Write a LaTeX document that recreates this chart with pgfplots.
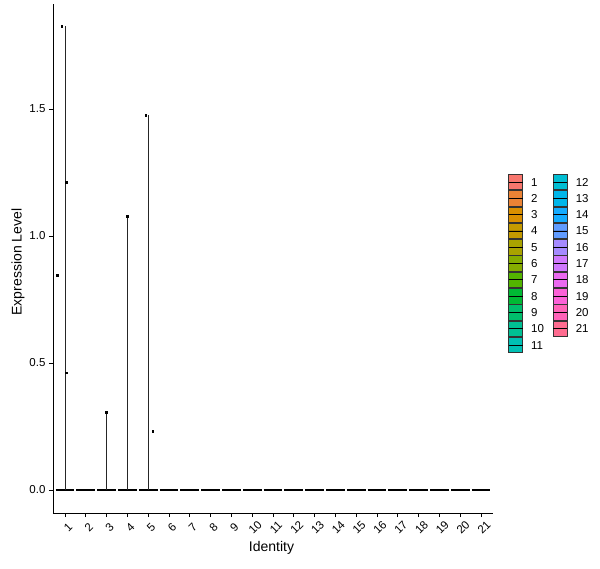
\documentclass[border=0pt]{standalone}
\usepackage{fontspec}
\setmainfont{Liberation Sans}
\usepackage{pgfplots}
\pgfplotsset{compat=1.18}
\definecolor{c1}{HTML}{F8766D}
\definecolor{c2}{HTML}{EB8335}
\definecolor{c3}{HTML}{DA8F00}
\definecolor{c4}{HTML}{C49A00}
\definecolor{c5}{HTML}{A9A300}
\definecolor{c6}{HTML}{86AC00}
\definecolor{c7}{HTML}{53B400}
\definecolor{c8}{HTML}{00B934}
\definecolor{c9}{HTML}{00BE6C}
\definecolor{c10}{HTML}{00C094}
\definecolor{c11}{HTML}{00C0B4}
\definecolor{c12}{HTML}{00BDD2}
\definecolor{c13}{HTML}{00B6EA}
\definecolor{c14}{HTML}{14ABFF}
\definecolor{c15}{HTML}{619CFF}
\definecolor{c16}{HTML}{A58AFF}
\definecolor{c17}{HTML}{CF78FD}
\definecolor{c18}{HTML}{EA69EF}
\definecolor{c19}{HTML}{FB61D7}
\definecolor{c20}{HTML}{FF63B8}
\definecolor{c21}{HTML}{FF6C90}
\begin{document}
\begin{tikzpicture}
\useasboundingbox (-53pt,-55pt) rectangle (547pt,513pt);
\begin{axis}[
  at={(0pt,0pt)}, anchor=south west,
  scale only axis, width=440pt, height=509pt,
  xmin=0.42, xmax=21.58, ymin=-0.0906, ymax=1.913,
  axis x line*=bottom, axis y line*=left,
  axis line style={-, black, line width=0.8pt},
  tick align=outside, major tick length=4pt,
  tick style={black, line width=0.8pt},
  xtick={1,...,21},
  ytick={0,0.5,1,1.5},
  /pgf/number format/assume math mode=true,
  yticklabel style={/pgf/number format/fixed, /pgf/number format/fixed zerofill, /pgf/number format/precision=1},
  tick label style={font=\fontsize{11.5}{13}\selectfont, color=black},
  xticklabel style={anchor=center, xshift=3pt, yshift=-10.5pt, rotate=45},
  label style={font=\fontsize{14}{16}\selectfont},
  xlabel={Identity}, ylabel={Expression Level},
  xlabel style={at={(axis description cs:0.4966,-0.0688)}, anchor=center},
  ylabel style={at={(axis description cs:-0.0795,0.493)}, anchor=center},
  legend columns=2, legend cell align=left,
  legend style={at={(axis description cs:1.0341,0.490)}, anchor=west, draw=none, fill=none,
    inner sep=0pt, row sep=0pt, font=\fontsize{11.5}{13}\selectfont,
    nodes={inner sep=0pt, text depth=0pt},
    /tikz/every odd column/.append style={column sep=8pt},
    /tikz/every even column/.append style={column sep=9pt}},
  legend image code/.code={\draw[#1, draw=black!80, line width=0.8pt] (0pt,-7.75pt) rectangle (14pt,7.75pt); \draw[black, line width=0.9pt] (0pt,0pt) -- (14pt,0pt);},
]
% flat violins at zero
\addplot[forget plot, black, line width=2pt, unbounded coords=jump] coordinates {
(0.55,0)(1.45,0)(nan,nan)(1.55,0)(2.45,0)(nan,nan)(2.55,0)(3.45,0)(nan,nan)
(3.55,0)(4.45,0)(nan,nan)(4.55,0)(5.45,0)(nan,nan)(5.55,0)(6.45,0)(nan,nan)
(6.55,0)(7.45,0)(nan,nan)(7.55,0)(8.45,0)(nan,nan)(8.55,0)(9.45,0)(nan,nan)
(9.55,0)(10.45,0)(nan,nan)(10.55,0)(11.45,0)(nan,nan)(11.55,0)(12.45,0)(nan,nan)
(12.55,0)(13.45,0)(nan,nan)(13.55,0)(14.45,0)(nan,nan)(14.55,0)(15.45,0)(nan,nan)
(15.55,0)(16.45,0)(nan,nan)(16.55,0)(17.45,0)(nan,nan)(17.55,0)(18.45,0)(nan,nan)
(18.55,0)(19.45,0)(nan,nan)(19.55,0)(20.45,0)(nan,nan)(20.55,0)(21.45,0)
};
% thin violin spikes
\addplot[forget plot, black!85, line width=0.8pt, unbounded coords=jump] coordinates {
(1,0)(1,1.827)(nan,nan)(3,0)(3,0.305)(nan,nan)(4,0)(4,1.079)(nan,nan)(5,0)(5,1.476)
};
% jittered points
\addplot[forget plot, only marks, mark=square*, mark size=0.9pt, black] coordinates {
(0.84,1.827)(1.07,1.210)(0.615,0.844)(1.05,0.462)
(2.99,0.305)(4.00,1.079)(4.88,1.476)(5.21,0.232)
};
\addlegendimage{fill=c1}\addlegendentry{1}
\addlegendimage{fill=c12}\addlegendentry{12}
\addlegendimage{fill=c2}\addlegendentry{2}
\addlegendimage{fill=c13}\addlegendentry{13}
\addlegendimage{fill=c3}\addlegendentry{3}
\addlegendimage{fill=c14}\addlegendentry{14}
\addlegendimage{fill=c4}\addlegendentry{4}
\addlegendimage{fill=c15}\addlegendentry{15}
\addlegendimage{fill=c5}\addlegendentry{5}
\addlegendimage{fill=c16}\addlegendentry{16}
\addlegendimage{fill=c6}\addlegendentry{6}
\addlegendimage{fill=c17}\addlegendentry{17}
\addlegendimage{fill=c7}\addlegendentry{7}
\addlegendimage{fill=c18}\addlegendentry{18}
\addlegendimage{fill=c8}\addlegendentry{8}
\addlegendimage{fill=c19}\addlegendentry{19}
\addlegendimage{fill=c9}\addlegendentry{9}
\addlegendimage{fill=c20}\addlegendentry{20}
\addlegendimage{fill=c10}\addlegendentry{10}
\addlegendimage{fill=c21}\addlegendentry{21}
\addlegendimage{fill=c11}\addlegendentry{11}
\end{axis}
\end{tikzpicture}
\end{document}
